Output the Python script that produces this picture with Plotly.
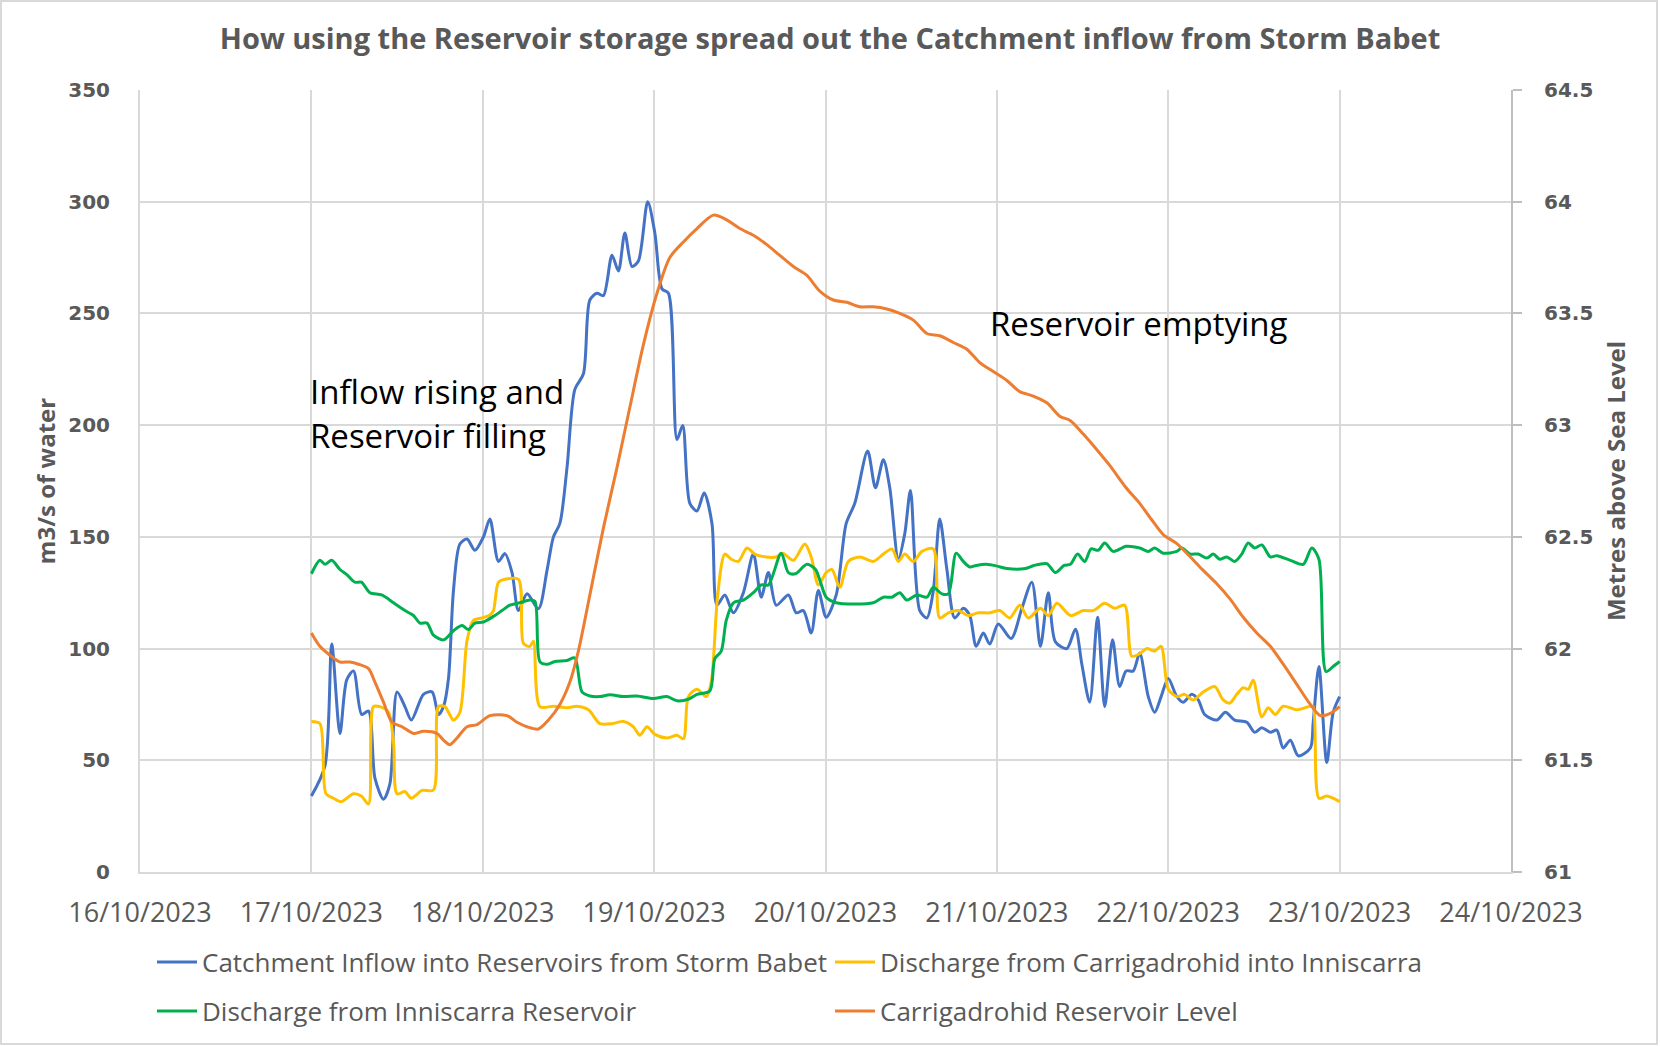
import pandas as pd
import plotly.graph_objects as go

# ---------------- data (hours after 17/10/2023 00:00) ----------------
inflow_h = [0, 1.9, 2.85, 4.0, 4.95, 5.9, 7.05, 8.0, 8.9, 10.1, 11.0, 12.0, 13.1, 14.0, 15.7, 16.9, 17.8, 18.5, 19.2, 19.9,
            20.8, 21.8, 22.9, 24.1, 25.0, 26.2, 27.1, 28.1, 29.0, 30.2, 31.8, 33.0, 33.9, 34.8, 35.8, 36.9, 38.1, 39.0, 40.0, 40.9,
            42.1, 43.0, 43.9, 44.9, 45.8, 47.1, 48.1, 49.1, 50.0, 51.2, 52.0, 53.0, 54.0, 55.0, 56.1, 56.8, 57.9, 59.1, 60.5, 61.9,
            63.0, 64.0, 65.1, 66.8, 67.9, 68.9, 70.0, 71.0, 72.1, 73.5, 74.9, 76.1, 77.9, 79.0, 80.1, 81.0, 82.2, 83.1, 83.9, 85.2,
            86.2, 87.1, 88.0, 89.0, 90.1, 91.3, 92.2, 93.1, 94.1, 95.0, 96.2, 98.0, 99.5, 100.9, 102.1, 103.2, 104.2, 105.8, 107.0, 107.9,
            109.0, 110.1, 111.1, 112.2, 113.2, 114.1, 115.1, 116.0, 117.2, 118.1, 119.0, 120.0, 121.2, 122.1, 123.3, 124.2, 125.1, 126.8, 128.0, 129.3,
            131.0, 132.1, 133.1, 134.3, 135.2, 136.1, 137.1, 138.2, 139.9, 140.3, 141.1, 142.2, 143.1, 144.0]
inflow_v = [34, 47.5, 102, 62, 86, 90, 70.5, 72, 42, 32.6, 39.5, 80.6, 74, 68, 79.5, 80.6, 70.5, 74, 86.6, 126,
            146.8, 149, 144, 150, 158, 139, 142.5, 134, 117, 124.5, 117.8, 135, 150, 156, 181, 216, 223, 256, 259, 258,
            276, 269, 286, 271, 273.5, 300, 286, 261, 259, 193.6, 199.8, 165, 161.6, 169.6, 156, 119.4, 124, 116, 125, 142.3,
            123, 134, 119.4, 124, 116, 117, 107, 126, 114, 124, 156, 165, 188.4, 172, 184.5, 172, 140, 151.4, 170.8, 117,
            113.7, 126, 158, 135.4, 113.7, 118, 114.8, 101, 107, 102, 111, 104.5, 118, 129.7, 101, 125, 103, 100, 108.7, 93,
            76, 114, 74, 104, 83, 90, 90, 98, 78.5, 71.5, 78.5, 86.6, 78.5, 76, 79.5, 77, 70.5, 68, 71.5, 68,
            67, 62.5, 64.6, 62.5, 63.5, 55.5, 59, 52, 55.5, 67, 92, 49, 71.5, 78.5]

carrig_h = [0, 1.2, 2.05, 3.1, 4.2, 5.9, 7.0, 8.0, 8.7, 9.6, 10.8, 11.5, 12.0, 13.1, 14.0, 15.5, 17.1, 17.8, 18.7, 19.9,
            20.8, 21.8, 22.7, 23.9, 25.0, 25.5, 26.2, 27.1, 29.0, 29.7, 30.6, 31.1, 32.0, 33.9, 35.8, 37.2, 38.8, 40.4, 42.1, 43.7,
            45.1, 46.0, 47.0, 48.1, 49.8, 51.2, 52.1, 52.8, 54.0, 55.3, 56.0, 56.9, 57.9, 58.8, 59.8, 61.0, 62.1, 63.7, 65.1, 66.0,
            67.5, 69.1, 70.0, 71.0, 72.1, 72.9, 74.0, 75.2, 76.8, 78.7, 80.1, 81.3, 82.2, 83.1, 84.3, 85.5, 87.1, 88.0, 89.2, 90.6,
            92.0, 93.4, 95.0, 96.4, 97.8, 99.2, 100.4, 102.1, 103.2, 104.4, 106.3, 108.1, 109.5, 111.1, 112.5, 113.9, 114.9, 116.0, 117.0, 118.1,
            119.0, 120.0, 121.2, 122.3, 123.5, 124.9, 126.5, 127.7, 128.6, 129.6, 130.5, 131.2, 131.9, 133.1, 134.0, 135.0, 136.1, 138.0, 139.9, 140.3,
            141.1, 142.2, 144.0]
carrig_v = [67.4, 66.4, 35, 33, 31.5, 35, 34, 30.4, 74, 74, 71.5, 58, 35, 36, 33, 36.5, 36.7, 74, 74, 68,
            71.5, 103.6, 112.6, 113.7, 115, 117, 129.7, 131, 131, 102.3, 101, 103.3, 74, 74.2, 73.5, 74.2, 72.6, 66.4, 66.4, 67.4,
            65, 61.2, 65, 61.6, 60, 61.2, 59.6, 78.5, 81.8, 78.5, 85, 124, 142.3, 140, 139, 145, 142.3, 141, 141, 142.7,
            139.5, 146.8, 141, 128.5, 134, 135.4, 127.4, 139, 141, 139, 142.3, 144.6, 139, 142.3, 139, 143.5, 144.6, 113.7, 116, 117,
            114.8, 116, 116, 117, 113.7, 119.4, 113.7, 118, 114.8, 120.3, 114.8, 117, 117, 120.3, 118, 119.4, 96.6, 97.7, 100, 98.9,
            101, 81.8, 78.5, 79.5, 77, 80.6, 83, 77, 75.6, 79.5, 82.5, 81.8, 85.8, 69.4, 73.5, 70.5, 74.2, 72.6, 74.2, 74,
            33, 34, 31.5]

innis_h = [0, 1.2, 1.9, 2.85, 4.0, 5.0, 6.1, 7.0, 8.2, 9.85, 11.5, 13.1, 14.3, 15.2, 16.2, 17.1, 18.5, 19.9, 21.1, 22.0,
           22.9, 24.1, 25.5, 26.7, 27.8, 29.2, 30.6, 31.3, 32.0, 33.0, 34.1, 35.8, 36.9, 37.9, 39.0, 40.4, 41.8, 43.7, 45.6, 47.9,
           49.8, 51.2, 52.8, 54.0, 55.8, 56.5, 57.4, 58.1, 59.1, 60.5, 61.9, 63.0, 64.0, 65.8, 66.8, 67.8, 69.4, 70.6, 71.3, 72.1,
           73.5, 75.9, 78.7, 80.1, 81.3, 82.4, 83.4, 84.8, 86.2, 87.1, 88.3, 89.2, 90.3, 91.3, 92.2, 93.1, 94.5, 95.9, 97.4, 100.0,
           101.2, 103.0, 104.2, 105.4, 106.3, 107.3, 108.3, 109.2, 110.2, 111.1, 112.3, 114.1, 116.0, 117.2, 118.1, 119.3, 121.2, 121.9, 123.1, 124.2,
           125.4, 126.3, 127.2, 128.2, 129.3, 130.3, 131.2, 132.1, 133.1, 134.3, 135.2, 137.1, 138.9, 140.1, 141.1, 142.1, 143.1, 144.0]
innis_v = [133.5, 139.5, 137.7, 139.5, 135.4, 133, 129.7, 129.7, 125, 124, 120.5, 117, 114.8, 111.4, 111.4, 106, 103.9, 108, 110.3, 108.5,
           111.4, 111.9, 114.4, 117, 119.4, 120.5, 121.7, 121.2, 94.2, 93, 94.2, 94.7, 95.8, 80.6, 78.8, 78.5, 79.3, 78.5, 78.8, 77.6,
           78.5, 76.6, 77.3, 79.5, 81, 95.5, 98.9, 112.6, 120.5, 121.7, 125, 128.5, 128.5, 142.7, 134, 133.5, 137.7, 135.4, 129.7, 123,
           120.5, 119.9, 120.5, 123, 123, 125, 121.7, 124, 123, 127.4, 124.5, 124.5, 142.7, 139, 136.5, 137.2, 137.7, 137, 135.8, 135.8,
           137.2, 138, 134, 137.2, 137.7, 142.3, 139, 144.6, 144, 147.3, 143.5, 145.8, 145, 143.5, 145, 142.7, 143.5, 145, 142.3, 142.3,
           140.5, 142.3, 140, 141, 139, 142.3, 147.3, 145, 146.4, 141, 141.6, 139.5, 137.7, 145, 140, 89.7, 92, 94.2]

level_h = [0, 1.2, 2.6, 4.0, 5.4, 6.6, 8.0, 8.9, 10.1, 11.3, 12.7, 14.3, 15.7, 17.6, 18.5, 19.4, 20.4, 21.8, 23.2, 25.0,
           27.4, 28.8, 30.2, 31.8, 33.2, 34.8, 36.2, 37.4, 39.0, 40.9, 42.8, 44.6, 46.5, 48.4, 50.2, 52.1, 54.0, 56.3, 58.1, 60.0,
           61.9, 63.7, 65.6, 67.5, 69.4, 71.2, 73.1, 75.0, 76.8, 78.7, 80.6, 82.4, 84.3, 86.2, 88.0, 89.9, 91.8, 93.6, 95.5, 97.4,
           99.2, 101.1, 103.0, 104.8, 106.3, 108.1, 110.0, 111.8, 114.1, 116.0, 117.6, 119.3, 121.2, 123.1, 124.9, 126.8, 128.7, 130.5, 132.4, 134.3,
           136.1, 138.0, 139.9, 141.3, 142.7, 144.0]
level_v = [62.07, 62.01, 61.97, 61.94, 61.94, 61.93, 61.91, 61.85, 61.76, 61.67, 61.65, 61.62, 61.63, 61.62, 61.59, 61.57, 61.60, 61.65, 61.66, 61.70,
           61.70, 61.67, 61.65, 61.64, 61.68, 61.75, 61.85, 61.99, 62.24, 62.54, 62.81, 63.08, 63.36, 63.59, 63.75, 63.82, 63.88, 63.94, 63.92, 63.88,
           63.85, 63.81, 63.76, 63.71, 63.67, 63.60, 63.56, 63.55, 63.53, 63.53, 63.52, 63.50, 63.47, 63.41, 63.40, 63.37, 63.34, 63.28, 63.24, 63.20,
           63.15, 63.13, 63.10, 63.04, 63.02, 62.96, 62.89, 62.82, 62.72, 62.65, 62.58, 62.51, 62.47, 62.41, 62.35, 62.29, 62.22, 62.14, 62.07, 62.01,
           61.93, 61.84, 61.75, 61.70, 61.71, 61.74]

series_names = ["Catchment Inflow into Reservoirs from Storm Babet",
                "Discharge from Carrigadrohid into Inniscarra",
                "Discharge from Inniscarra Reservoir",
                "Carrigadrohid Reservoir Level"]
left_ticks = [0, 50, 100, 150, 200, 250, 300, 350]
right_tickvals = [61, 61.5, 62, 62.5, 63, 63.5, 64, 64.5]
right_ticktext = ["61", "61.5", "62", "62.5", "63", "63.5", "64", "64.5"]
start = pd.Timestamp("2023-10-17")


def to_time(hours):
    return [start + pd.Timedelta(hours=h) for h in hours]


colors = ["#4472C4", "#FFC000", "#00B050", "#ED7D31"]
GRAY = "#595959"
GRID = "#D9D9D9"

PLOT_L, PLOT_R, PLOT_T, PLOT_B = 140, 1511, 90, 872
PW, PH = PLOT_R - PLOT_L, PLOT_B - PLOT_T

fig = go.Figure()
fig.add_trace(go.Scatter(x=to_time(inflow_h), y=inflow_v, name=series_names[0], mode="lines",
                         line=dict(color=colors[0], width=3, shape="spline", smoothing=0.8), legend="legend"))
fig.add_trace(go.Scatter(x=to_time(carrig_h), y=carrig_v, name=series_names[1], mode="lines",
                         line=dict(color=colors[1], width=3, shape="spline", smoothing=0.8), legend="legend2"))
fig.add_trace(go.Scatter(x=to_time(innis_h), y=innis_v, name=series_names[2], mode="lines",
                         line=dict(color=colors[2], width=3, shape="spline", smoothing=0.8), legend="legend3"))
fig.add_trace(go.Scatter(x=to_time(level_h), y=level_v, name=series_names[3], mode="lines", yaxis="y2",
                         line=dict(color=colors[3], width=3, shape="spline", smoothing=0.8), legend="legend4"))

legend_font = dict(family="Open Sans", size=26, color=GRAY)


def legend_at(px_left, px_center_y):
    return dict(orientation="h", x=(px_left - PLOT_L) / PW, xanchor="left",
                y=(PLOT_B - px_center_y) / PH, yanchor="middle", itemwidth=40,
                font=legend_font, bgcolor="rgba(0,0,0,0)", borderwidth=0)


fig.update_layout(
    width=1660, height=1046,
    margin=dict(l=PLOT_L, r=1660 - PLOT_R, t=PLOT_T, b=1046 - PLOT_B, autoexpand=False),
    paper_bgcolor="white", plot_bgcolor="white",
    title=dict(text="How using the Reservoir storage spread out the Catchment inflow from Storm Babet",
               x=0.5, xref="container", xanchor="center", y=1 - 39 / 1046, yref="container", yanchor="middle",
               font=dict(family="Open Sans", size=29, color=GRAY, weight="bold")),
    xaxis=dict(type="date", range=["2023-10-16", "2023-10-24"], dtick=86400000, tick0="2023-10-16",
               tickformat="%d/%m/%Y", showgrid=True, gridcolor=GRID, gridwidth=2,
               showline=True, linecolor=GRID, linewidth=2, ticks="", ticklabelstandoff=16,
               tickfont=dict(family="Open Sans", size=27, color=GRAY), zeroline=False),
    yaxis=dict(range=[0, 350], tickvals=left_ticks, showgrid=True, gridcolor=GRID, gridwidth=2,
               showline=True, linecolor=GRID, linewidth=2, ticks="", zeroline=False, ticklabelstandoff=24,
               tickfont=dict(family="DejaVu Sans", size=20, color=GRAY, weight="bold"),
               title=dict(text="m3/s of water", standoff=6,
                          font=dict(family="Open Sans", size=24, color=GRAY, weight="bold"))),
    yaxis2=dict(range=[61, 64.5], tickvals=right_tickvals, ticktext=right_ticktext, overlaying="y", side="right",
                showgrid=False, showline=True, linecolor="#BFBFBF", linewidth=2, ticks="outside", ticklen=9,
                tickcolor="#BFBFBF", tickwidth=2, zeroline=False, ticklabelstandoff=18,
                tickfont=dict(family="DejaVu Sans", size=20, color=GRAY, weight="bold"),
                title=dict(text="Metres above Sea Level", standoff=16,
                           font=dict(family="Open Sans", size=24, color=GRAY, weight="bold"))),
    legend=legend_at(152, 962),
    legend2=legend_at(830, 962),
    legend3=legend_at(152, 1011),
    legend4=legend_at(830, 1011),
    showlegend=True,
)

# Text annotations on the chart
fig.add_annotation(x="2023-10-16 23:30", y=215, xref="x", yref="y", text="Inflow rising and",
                   showarrow=False, xanchor="left", yanchor="middle",
                   font=dict(family="Open Sans", size=33, color="black"))
fig.add_annotation(x="2023-10-16 23:30", y=195.2, xref="x", yref="y", text="Reservoir filling",
                   showarrow=False, xanchor="left", yanchor="middle",
                   font=dict(family="Open Sans", size=33, color="black"))
fig.add_annotation(x="2023-10-20 22:44", y=245.7, xref="x", yref="y", text="Reservoir emptying",
                   showarrow=False, xanchor="left", yanchor="middle",
                   font=dict(family="Open Sans", size=33, color="black"))

# chart-area border
fig.add_shape(type="rect", xref="paper", yref="paper",
              x0=(1 - PLOT_L) / PW, x1=(1657 - PLOT_L) / PW, y0=(PLOT_B - 1044) / PH, y1=(PLOT_B - 1) / PH,
              line=dict(color=GRID, width=2), fillcolor="rgba(0,0,0,0)", layer="below")

fig.write_html("out.html")
